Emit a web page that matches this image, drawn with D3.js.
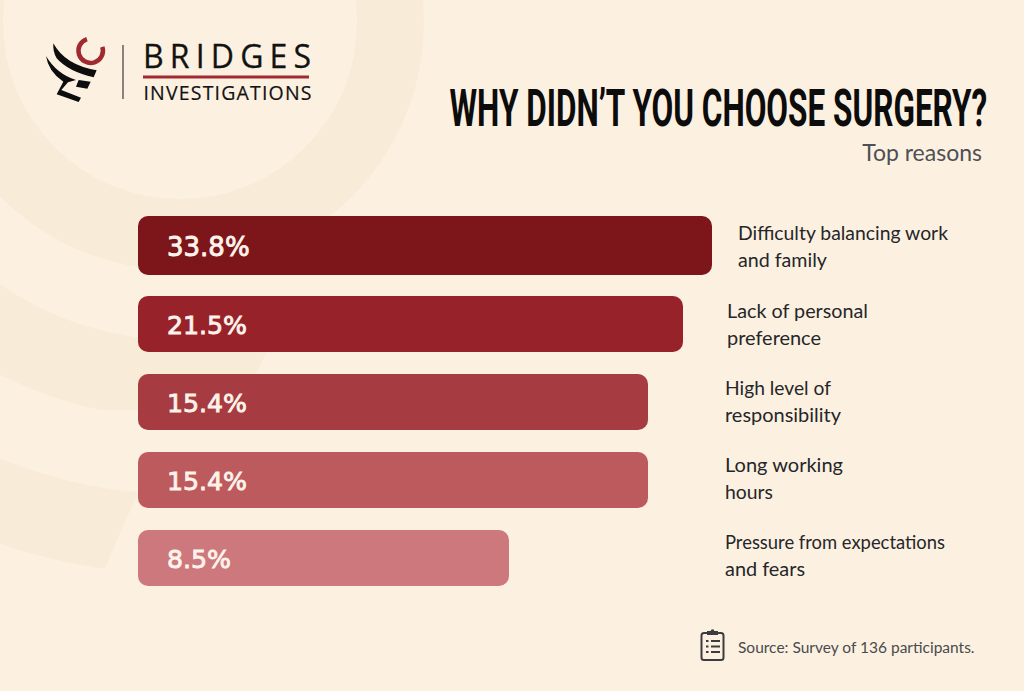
<!DOCTYPE html>
<html>
<head>
<meta charset="utf-8">
<style>
  html, body { margin: 0; padding: 0; background: #fcf1e0; }
  svg { display: block; }
</style>
<script src="https://cdn.jsdelivr.net/npm/d3@7"></script>
</head>
<body>
<div id="my_dataviz"></div>
<script>
// values
const reasons = ["Difficulty", "Lack", "Responsibility", "Hours", "Pressure"];
const shares = [33.8, 21.5, 15.4, 15.4, 8.5];
const shareLabels = ["33.8%", "21.5%", "15.4%", "15.4%", "8.5%"];
const reasonLines = [
    ["Difficulty balancing work", "and family"],
    ["Lack of personal", "preference"],
    ["High level of", "responsibility"],
    ["Long working", "hours"],
    ["Pressure from expectations", "and fears"]
];

const width = 1024;
const height = 691;

const svg = d3.select("#my_dataviz")
    .append("svg")
    .attr("width", width)
    .attr("height", height);

const pageColor = "#fcf1e0";
svg.append("rect")
    .attr("width", width)
    .attr("height", height)
    .attr("fill", pageColor);

// faint rings behind everything
const ringCentre = [180, 22];
const bandColor = "#f8ecd9";

const defs = svg.append("defs");
defs.append("clipPath").attr("id", "clipUpperBand")
    .append("path").attr("d", "M-10,200 L400,200 L266,353 L240,410 L-10,410 Z");
defs.append("clipPath").attr("id", "clipLowerBand")
    .append("path").attr("d", "M-10,400 L177,400 L137,495 L105,568 L-10,600 Z");

const rings = svg.append("g");
rings.append("circle").attr("cx", 176).attr("cy", 22).attr("r", 248).attr("fill", bandColor);
rings.append("circle").attr("cx", ringCentre[0]).attr("cy", ringCentre[1]).attr("r", 177).attr("fill", pageColor);
rings.append("g").attr("clip-path", "url(#clipUpperBand)")
    .append("path")
    .attr("transform", `translate(${ringCentre})`)
    .attr("d", d3.arc()({ innerRadius: 318, outerRadius: 396, startAngle: Math.PI / 2, endAngle: 1.5 * Math.PI }))
    .attr("fill", bandColor);
rings.append("g").attr("clip-path", "url(#clipLowerBand)")
    .append("path")
    .attr("transform", `translate(${ringCentre})`)
    .attr("d", d3.arc()({ innerRadius: 472, outerRadius: 552, startAngle: Math.PI / 2, endAngle: 1.5 * Math.PI }))
    .attr("fill", bandColor);

// the bars in the picture are not proportional, so the scale has one segment per value
const x = d3.scaleLinear()
    .domain([8.5, 15.4, 21.5, 33.8])
    .range([509, 648, 683, 712]);
const barLeft = 138;

const y = d3.scaleBand()
    .domain(reasons)
    .range([218, 586])
    .paddingInner(0.282)
    .paddingOuter(0);

const color = d3.scaleOrdinal()
    .domain(reasons)
    .range(["#7c161b", "#98222a", "#a63b41", "#bc5a5d", "#cd787d"]);

// first row is drawn a little taller
const growTop = i => i === 0 ? 2 : 0;
const growBottom = i => i === 0 ? 1 : 0;

svg.append("g").selectAll("rect")
    .data(reasons)
    .enter()
    .append("rect")
    .attr("x", barLeft)
    .attr("y", (d, i) => y(d) - growTop(i))
    .attr("width", (d, i) => x(shares[i]) - barLeft)
    .attr("height", (d, i) => y.bandwidth() + growTop(i) + growBottom(i))
    .attr("rx", 10)
    .attr("fill", d => color(d));

svg.append("g").selectAll("text")
    .data(reasons)
    .enter()
    .append("text")
    .attr("x", 167)
    .attr("y", (d, i) => y(d) + y.bandwidth() / 2 + 10)
    .attr("font-family", "'DejaVu Sans', sans-serif")
    .attr("font-size", (d, i) => i === 0 ? 26 : 25.2)
    .attr("fill", "#fdf3ea")
    .attr("stroke", "#fdf3ea")
    .attr("stroke-width", 0.9)
    .text((d, i) => shareLabels[i]);

// labels on the right, each row sits a bit differently in the picture
const labelLefts = [738, 727, 725, 725, 725];
const labelNudge = [1, 1, 0, -1, -2];
const lineWidths = [[210, 89], [141, 94], [106, 116], [118, 48], [220, 80]];
const labels = svg.append("g").selectAll("text")
    .data(reasons)
    .enter()
    .append("text")
    .attr("font-family", "Lato, sans-serif")
    .attr("font-size", 19.5)
    .attr("fill", "#26262a");

labels.selectAll("tspan")
    .data((d, i) => reasonLines[i].map((line, k) => ({ line, k, d, i })))
    .enter()
    .append("tspan")
    .attr("x", e => labelLefts[e.i])
    .attr("y", e => y(e.d) + y.bandwidth() / 2 - 7 + labelNudge[e.i] + e.k * 27)
    .attr("textLength", e => lineWidths[e.i][e.k])
    .attr("lengthAdjust", "spacingAndGlyphs")
    .text(e => e.line);

// title block, squeezed horizontally to get the condensed look
const title = svg.append("text")
    .attr("font-family", "'Liberation Sans Narrow', Roboto, sans-serif")
    .attr("font-weight", 700)
    .attr("font-size", 51)
    .attr("fill", "#0c0c0c")
    .text("WHY DIDN\u2019T YOU CHOOSE SURGERY?");
const titleScale = 538 / title.node().getComputedTextLength();
title.attr("transform", `translate(449.5,126) scale(${titleScale},1)`);

svg.append("text")
    .attr("x", 982)
    .attr("y", 161)
    .attr("text-anchor", "end")
    .attr("font-family", "Lato, sans-serif")
    .attr("font-size", 23)
    .attr("fill", "#4f4f54")
    .text("Top reasons");

// source note with clipboard icon
const icon = svg.append("g")
    .attr("fill", "none")
    .attr("stroke", "#3c3c3e")
    .attr("stroke-width", 2);
icon.append("rect").attr("x", 701.5).attr("y", 633).attr("width", 22).attr("height", 27).attr("rx", 2.5);
icon.append("rect").attr("x", 707).attr("y", 631).attr("width", 11).attr("height", 4).attr("fill", "#3c3c3e").attr("stroke", "none");
icon.append("circle").attr("cx", 712.5).attr("cy", 631).attr("r", 1.8).attr("fill", "#3c3c3e").attr("stroke", "none");
[641, 646.5, 652].forEach(rowY => {
    icon.append("line").attr("x1", 706).attr("x2", 708.5).attr("y1", rowY).attr("y2", rowY);
    icon.append("line").attr("x1", 711).attr("x2", 720).attr("y1", rowY).attr("y2", rowY);
});

svg.append("text")
    .attr("x", 738)
    .attr("y", 653)
    .attr("font-family", "Lato, sans-serif")
    .attr("font-size", 15.5)
    .attr("fill", "#4a4a4e")
    .text("Source: Survey of 136 participants.");

// logo
const logo = svg.append("g");
logo.append("path")
    .attr("transform", "translate(90.7,50.7)")
    .attr("d", d3.arc()({
        innerRadius: 10,
        outerRadius: 14.5,
        startAngle: 72 * Math.PI / 180,
        endAngle: 342 * Math.PI / 180
    }))
    .attr("fill", "#a02a30");

const mark = logo.append("g")
    .attr("transform", "scale(0.3333)")
    .attr("fill", "#0d0d0d");
mark.append("path").attr("d", "M160,130 Q195,195 290,211 L281,232 Q205,215 170,175 Q158,155 160,130 Z");
mark.append("path").attr("d", "M138,168 Q170,222 228,240 L204,247 L184,270 L243,293 L236,306 L170,283 L190,245 Q145,215 138,168 Z");
mark.append("path").attr("d", "M236,240 L272,245 L262,266 L228,260 Z");

logo.append("line")
    .attr("x1", 123).attr("x2", 123)
    .attr("y1", 45).attr("y2", 99)
    .attr("stroke", "#3a3a3a")
    .attr("stroke-width", 1.2);

logo.append("text")
    .attr("x", 143)
    .attr("y", 68)
    .attr("textLength", 168)
    .attr("font-family", "'Open Sans', sans-serif")
    .attr("font-weight", 500)
    .attr("font-size", 32)
    .attr("fill", "#121212")
    .attr("stroke", "#121212")
    .attr("stroke-width", 0.3)
    .text("BRIDGES");

logo.append("rect")
    .attr("x", 143).attr("y", 75.5)
    .attr("width", 166).attr("height", 3)
    .attr("fill", "#a02a30");

logo.append("text")
    .attr("x", 143.5)
    .attr("y", 99.5)
    .attr("textLength", 168)
    .attr("font-family", "'Open Sans', sans-serif")
    .attr("font-weight", 500)
    .attr("font-size", 19.5)
    .attr("fill", "#121212")
    .attr("stroke", "#121212")
    .attr("stroke-width", 0.2)
    .text("INVESTIGATIONS");
</script>
</body>
</html>
